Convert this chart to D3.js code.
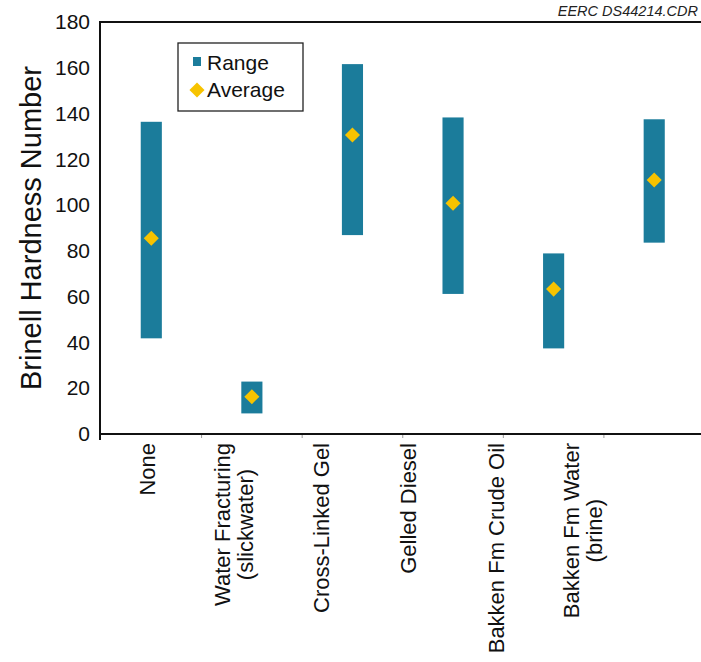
<!DOCTYPE html>
<html>
<head>
<meta charset="utf-8">
<script src="https://cdn.jsdelivr.net/npm/d3@7"></script>
<style>
  html, body { margin: 0; padding: 0; background: #fff; }
  svg { display: block; font-family: "Liberation Sans", Arial, sans-serif; }
</style>
</head>
<body>
<svg id="chart" width="701" height="662"></svg>
<script>
// Brinell hardness per treatment fluid: min/max range and average
const categories = [
  ["None"],
  ["Water Fracturing", "(slickwater)"],
  ["Cross-Linked Gel"],
  ["Gelled Diesel"],
  ["Bakken Fm Crude Oil"],
  ["Bakken Fm Water", "(brine)"]
];
const rangeLow  = [41.8, 9.0, 86.9, 61.2, 37.4, 83.6];
const rangeHigh = [136.4, 22.9, 161.6, 138.3, 78.9, 137.5];
const averages  = [85.5, 16.3, 130.6, 100.8, 63.3, 111.0];
const yTicks = [0, 20, 40, 60, 80, 100, 120, 140, 160, 180];
const legendItems = ["Range", "Average"];
const yLabel = "Brinell Hardness Number";
const tag = "EERC DS44214.CDR";

const teal = "#1b7c9b";
const gold = "#f7c300";

const svg = d3.select("#chart");
const keys = categories.map(c => c.join(" "));

const x = d3.scaleBand().domain(keys).range([101, 704.5])
  .paddingInner(0.79).paddingOuter(0.395);
const xLabel = d3.scalePoint().domain(keys).range([147, 583]);
const y = d3.scaleLinear().domain([0, 180]).range([434, 22]);

// frame: top rule, left axis, bottom axis
svg.append("line").attr("x1", 100).attr("x2", 701).attr("y1", 22).attr("y2", 22)
  .attr("stroke", "#111").attr("stroke-width", 2);
svg.append("line").attr("x1", 100).attr("x2", 701).attr("y1", 434).attr("y2", 434)
  .attr("stroke", "#111").attr("stroke-width", 2);
svg.append("line").attr("x1", 100).attr("x2", 100).attr("y1", 21).attr("y2", 440)
  .attr("stroke", "#111").attr("stroke-width", 2);

// category separators on the x axis
const step = x.step();
svg.append("g").selectAll("line")
  .data(keys.slice(1))
  .join("line")
  .attr("x1", d => x(d) - (step - x.bandwidth()) / 2)
  .attr("x2", d => x(d) - (step - x.bandwidth()) / 2)
  .attr("y1", 435).attr("y2", 438)
  .attr("stroke", "#999").attr("stroke-width", 1);

// y axis labels
const yAxis = d3.axisLeft(y).tickValues(yTicks).tickSize(0).tickPadding(10);
const gy = svg.append("g").attr("transform", "translate(100,0)").call(yAxis);
gy.select(".domain").remove();
gy.selectAll("text").attr("font-size", 21).attr("fill", "#111")
  .attr("font-family", "Liberation Sans, Arial, sans-serif");

// y axis title
svg.append("text")
  .attr("transform", "translate(41,228) rotate(-90)")
  .attr("text-anchor", "middle")
  .attr("font-size", 29)
  .attr("fill", "#111")
  .text(yLabel);

// range bars
svg.append("g").selectAll("rect")
  .data(keys)
  .join("rect")
  .attr("x", d => x(d))
  .attr("width", x.bandwidth())
  .attr("y", (d, i) => y(rangeHigh[i]))
  .attr("height", (d, i) => y(rangeLow[i]) - y(rangeHigh[i]))
  .attr("fill", teal);

// average markers
const diamond = d3.symbol().type(d3.symbolDiamond2).size(145);
svg.append("g").selectAll("path")
  .data(keys)
  .join("path")
  .attr("transform", (d, i) => `translate(${x(d) + x.bandwidth() / 2},${y(averages[i])})`)
  .attr("d", diamond)
  .attr("fill", gold);

// category labels, rotated, block top at y=443
const labelTop = 443;
const lineGap = 23;
categories.forEach((lines, i) => {
  const g = svg.append("g")
    .attr("transform", `translate(${xLabel(keys[i])},0) rotate(-90)`);
  const n = lines.length;
  const texts = lines.map((t, j) => g.append("text")
    .attr("text-anchor", "middle")
    .attr("y", (j - (n - 1) / 2) * lineGap)
    .attr("dy", "0.35em")
    .attr("font-size", 22)
    .attr("fill", "#111")
    .text(t));
  const maxLen = d3.max(texts, t => t.node().getComputedTextLength());
  texts.forEach(t => t.attr("x", -(labelTop + maxLen / 2)));
});

// legend
const lg = svg.append("g");
lg.append("rect").attr("x", 178).attr("y", 43).attr("width", 125).attr("height", 68)
  .attr("fill", "#fff").attr("stroke", "#222").attr("stroke-width", 1.3);
lg.append("rect").attr("x", 193).attr("y", 57).attr("width", 8).attr("height", 9)
  .attr("fill", teal);
lg.append("path").attr("transform", "translate(197,90)").attr("d", diamond).attr("fill", gold);
lg.selectAll("text.item")
  .data(legendItems)
  .join("text")
  .attr("class", "item")
  .attr("x", 207)
  .attr("y", (d, i) => 70 + i * 27)
  .attr("font-size", 21)
  .attr("fill", "#111")
  .text(d => d);

// drawing tag
svg.append("text")
  .attr("x", 698).attr("y", 16)
  .attr("text-anchor", "end")
  .attr("font-size", 14.5)
  .attr("font-style", "italic")
  .attr("fill", "#222")
  .text(tag);
</script>
</body>
</html>
